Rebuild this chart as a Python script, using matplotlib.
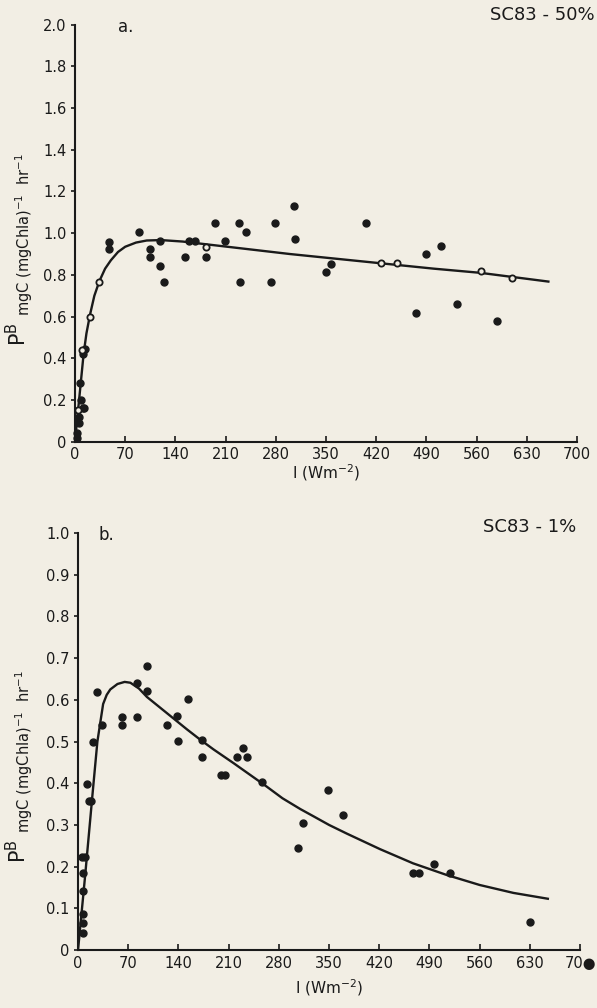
import matplotlib.pyplot as plt

# ---- panel a: SC83-50% ----
a_x = [48, 48, 89.7, 104.6, 104.6, 118.5, 118.5, 124.6, 153.4, 159, 167.4, 182.3,
       209.7, 230, 273, 195, 229, 238, 279, 306, 307, 405.8, 349.6, 357,
       475.6, 489.5, 510.9, 532.8, 588,
       14, 11.6, 7, 8.4, 10.7, 12.5, 5.6, 5.6, 3.2, 3]
a_y = [0.96, 0.923, 1.007, 0.923, 0.887, 0.964, 0.844, 0.764, 0.887, 0.964, 0.964, 0.887,
       0.964, 0.764, 0.767, 1.05, 1.05, 1.007, 1.047, 1.13, 0.97, 1.05, 0.814, 0.852,
       0.619, 0.899, 0.939, 0.66, 0.579,
       0.443, 0.42, 0.28, 0.2, 0.16, 0.16, 0.12, 0.088, 0.04, 0.02]
a_open_x = [9.3, 21, 33.5, 4.6, 182.3, 426, 448.6, 566.7, 609]
a_open_y = [0.44, 0.60, 0.764, 0.15, 0.935, 0.856, 0.856, 0.82, 0.787]
a_fit_x = [0, 4, 8, 12, 16, 21, 27, 34, 42, 50, 60, 70, 85, 100, 120, 150, 200,
           300, 420, 500, 565, 660]
a_fit_y = [0, 0.14, 0.28, 0.42, 0.52, 0.61, 0.70, 0.77, 0.83, 0.87, 0.91, 0.935,
           0.955, 0.965, 0.967, 0.96, 0.94, 0.90, 0.858, 0.83, 0.81, 0.768]

# ---- panel b: SC83-1% ----
b_x = [20.4, 27, 33.9, 60.9, 60.9, 81.8, 81.8, 95.7, 95.7, 123.6, 137.6, 139, 152.9,
       173, 229.5, 13, 15.8, 17.5, 5.1, 9.8, 6.5, 6.5, 6.5, 6.5, 6.5,
       173, 200, 205, 222, 236, 257, 306, 313, 348, 370, 467, 476, 496.6, 518.5, 630]
b_y = [0.498, 0.618, 0.54, 0.559, 0.54, 0.641, 0.559, 0.681, 0.622, 0.54, 0.561, 0.502, 0.602,
       0.504, 0.484, 0.398, 0.358, 0.358, 0.224, 0.222, 0.184, 0.142, 0.086, 0.064, 0.042,
       0.462, 0.42, 0.42, 0.462, 0.462, 0.404, 0.244, 0.305, 0.384, 0.325, 0.184, 0.184,
       0.206, 0.185, 0.068]
b_fit_x = [0, 10, 20, 27, 31, 35, 40, 45, 55, 65, 73, 85, 96, 124, 152, 170, 189, 217,
           240, 263, 285, 310, 328, 350, 375, 421, 467, 514, 560, 607, 655]
b_fit_y = [0, 0.18, 0.37, 0.50, 0.545, 0.59, 0.612, 0.625, 0.638, 0.643, 0.641, 0.627,
           0.607, 0.568, 0.529, 0.505, 0.481, 0.448, 0.42, 0.392, 0.364, 0.338, 0.321,
           0.30, 0.279, 0.242, 0.208, 0.18, 0.156, 0.137, 0.123]

x_ticks = [0, 70, 140, 210, 280, 350, 420, 490, 560, 630, 700]

bg = '#f2eee4'
ink = '#1a1a1a'
plt.rcParams['font.family'] = ['DejaVu Sans']
fig = plt.figure(figsize=(5.97, 10.08), dpi=100, facecolor=bg)

ylab = r'P$^{\mathrm{B}}$ $_{\mathrm{mgC\ (mgChla)^{-1}\ \ hr^{-1}}}$'


def setup(ax, ymax, ystep, fmt):
    ax.set_facecolor(bg)
    for s in ['top', 'right']:
        ax.spines[s].set_visible(False)
    for s in ['left', 'bottom']:
        ax.spines[s].set_linewidth(1.5)
        ax.spines[s].set_color(ink)
    ax.set_xlim(0, 700)
    ax.set_ylim(0, ymax)
    ax.set_xticks(x_ticks)
    yt = [round(i * ystep, 2) for i in range(int(round(ymax / ystep)) + 1)]
    ax.set_yticks(yt)
    ax.set_yticklabels(['0'] + [fmt % v for v in yt[1:]])
    ax.tick_params(axis='x', direction='in', length=4, width=1.2, labelsize=10.5,
                   pad=4, colors=ink)
    ax.tick_params(axis='y', direction='out', length=3, width=1.2, labelsize=10.5,
                   pad=3, colors=ink)


# panel a
ax1 = fig.add_axes([0.1256, 0.5618, 0.841, 0.4137])
setup(ax1, 2.0, 0.2, '%.1f')
ax1.plot(a_fit_x, a_fit_y, color=ink, lw=1.7)
ax1.plot(a_x, a_y, 'o', color=ink, ms=5, clip_on=False)
ax1.plot(a_open_x, a_open_y, 'o', mfc=bg, mec=ink, mew=1.3, ms=4.5, clip_on=False)
ax1.text(70, 1.99, 'a.', fontsize=12, ha='center', va='center', color=ink)
ax1.set_xlabel('I (Wm$^{-2}$)', fontsize=11, labelpad=0, color=ink)
ax1.set_ylabel(ylab, fontsize=15, color=ink)
ax1.yaxis.set_label_coords(-0.08, 0.46)

# panel b
ax2 = fig.add_axes([0.1307, 0.0575, 0.841, 0.4137])
setup(ax2, 1.0, 0.1, '%.1f')
ax2.set_xticklabels([str(t) for t in x_ticks[:-1]] + ['70\u25cf'])
ax2.plot(b_fit_x, b_fit_y, color=ink, lw=1.7)
ax2.plot(b_x, b_y, 'o', color=ink, ms=5, clip_on=False)
ax2.text(40, 0.995, 'b.', fontsize=12, ha='center', va='center', color=ink)
ax2.set_xlabel('I (Wm$^{-2}$)', fontsize=11, labelpad=5, color=ink)
ax2.set_ylabel(ylab, fontsize=15, color=ink)
ax2.yaxis.set_label_coords(-0.085, 0.44)

fig.text(595 / 597, 1 - 15 / 1008, 'SC83 - 50%', fontsize=13, ha='right', va='center', color=ink)
fig.text(576 / 597, 1 - 527 / 1008, 'SC83 - 1%', fontsize=13, ha='right', va='center', color=ink)

fig.savefig('out.png', dpi=100, facecolor=bg)
